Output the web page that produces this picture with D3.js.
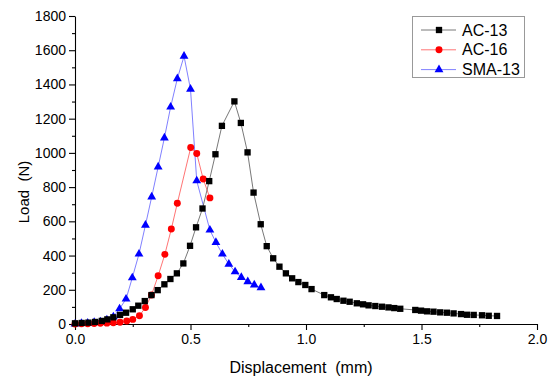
<!DOCTYPE html>
<html>
<head>
<meta charset="utf-8">
<script src="https://cdn.jsdelivr.net/npm/d3@7"></script>
<style>
  body { margin: 0; background: #fff; }
  svg { display: block; font-family: "Liberation Sans", Arial, sans-serif; }
  .axis path, .axis line { stroke: #000; stroke-width: 1.1; }
  .axis text { font-size: 14px; fill: #000; font-family: "Liberation Sans", Arial, sans-serif; }
  .line { fill: none; stroke-width: 0.8; }
</style>
</head>
<body>
<svg width="550" height="382"></svg>
<script>
// AC-13
var ac13Disp = [0, 0.029, 0.058, 0.087, 0.116, 0.14, 0.166, 0.195, 0.221, 0.25, 0.274, 0.302, 0.331, 0.358, 0.387, 0.413,
    0.441, 0.469, 0.498, 0.524, 0.552, 0.581, 0.608, 0.636, 0.69, 0.718, 0.747, 0.773, 0.804, 0.83, 0.858, 0.885,
    0.913, 0.94, 0.967, 0.997, 1.024, 1.079, 1.108, 1.133, 1.162, 1.189, 1.22, 1.247, 1.271, 1.3, 1.329, 1.357,
    1.382, 1.408, 1.473, 1.498, 1.524, 1.552, 1.581, 1.61, 1.639, 1.671, 1.697, 1.726, 1.762, 1.791, 1.827];
var ac13Load = [4, 6, 8, 12, 18, 27, 39, 53, 66, 86, 107, 134, 169, 198, 232, 263,
    296, 354, 457, 565, 675, 835, 992, 1158, 1301, 1175, 1003, 768, 583, 455, 384, 335,
    296, 267, 245, 228, 204, 169, 156, 146, 136, 130, 121, 115, 109, 105, 101, 97,
    93, 89, 82, 78, 74, 72, 68, 66, 62, 58, 54, 53, 51, 48, 47];

// AC-16
var ac16Disp = [0, 0.028, 0.055, 0.083, 0.11, 0.138, 0.166, 0.195, 0.224, 0.25, 0.279, 0.305, 0.331, 0.36, 0.389,
    0.417, 0.443, 0.501, 0.527, 0.555, 0.584];
var ac16Load = [0, 1, 2, 3, 4, 5, 7, 10, 18, 27, 48, 97, 169, 282, 407, 555, 706, 1031, 996, 847, 737];

// SMA-13
var smaDisp = [0, 0.028, 0.055, 0.083, 0.11, 0.138, 0.166, 0.193, 0.221, 0.248, 0.277, 0.305, 0.332, 0.36, 0.387,
    0.414, 0.443, 0.472, 0.5, 0.527, 0.584, 0.61, 0.638, 0.666, 0.693, 0.72, 0.748, 0.776, 0.805];
var smaLoad = [0, 3, 5, 9, 13, 24, 42, 89, 146, 270, 409, 578, 743, 918, 1088,
    1268, 1434, 1565, 1372, 837, 549, 477, 409, 350, 305, 272, 247, 228, 212];

var xTicks = [0, 0.5, 1.0, 1.5, 2.0];
var yTicks = [0, 200, 400, 600, 800, 1000, 1200, 1400, 1600, 1800];

var series = [
    { name: "SMA-13", disp: smaDisp, load: smaLoad, color: "#0000ff", line: "#6060ff", symbol: d3.symbolTriangle, size: 34 },
    { name: "AC-16", disp: ac16Disp, load: ac16Load, color: "#ff0000", line: "#ff5050", symbol: d3.symbolCircle, size: 38 },
    { name: "AC-13", disp: ac13Disp, load: ac13Load, color: "#000000", line: "#555555", symbol: d3.symbolSquare, size: 40 }
];

const svg = d3.select("svg");

const xScale = d3.scaleLinear().domain([0, 2]).range([75, 537]);
const yScale = d3.scaleLinear().domain([0, 1800]).range([324, 16]);

// minor ticks first
svg.append("g")
    .attr("class", "axis")
    .attr("transform", "translate(0,324)")
    .call(d3.axisBottom(xScale).tickValues(d3.range(0.25, 2, 0.5)).tickSize(3).tickSizeOuter(0).tickFormat(""))
    .select(".domain").remove();

svg.append("g")
    .attr("class", "axis")
    .attr("transform", "translate(75,0)")
    .call(d3.axisLeft(yScale).tickValues(d3.range(100, 1800, 200)).tickSize(3).tickSizeOuter(0).tickFormat(""))
    .select(".domain").remove();

svg.append("g")
    .attr("class", "axis")
    .attr("transform", "translate(0,324)")
    .call(d3.axisBottom(xScale).tickValues(xTicks).tickSize(6).tickSizeOuter(0).tickPadding(4).tickFormat(d3.format(".1f")));

svg.append("g")
    .attr("class", "axis")
    .attr("transform", "translate(75,0)")
    .call(d3.axisLeft(yScale).tickValues(yTicks).tickSize(6).tickSizeOuter(0).tickPadding(3).tickFormat(d3.format("d")));

// axis titles
svg.append("text")
    .attr("x", 301)
    .attr("y", 373)
    .attr("text-anchor", "middle")
    .style("font-size", "16px")
    .style("white-space", "pre")
    .text("Displacement  (mm)");

svg.append("text")
    .attr("transform", "translate(29,192) rotate(-90)")
    .attr("text-anchor", "middle")
    .style("font-size", "15px")
    .style("white-space", "pre")
    .text("Load  (N)");

// lines and markers
series.forEach(function (s) {
    var pts = s.disp.map(function (d, i) { return [d, s.load[i]]; });

    var lineGen = d3.line()
        .x(d => xScale(d[0]))
        .y(d => yScale(d[1]));

    svg.append("path")
        .datum(pts)
        .attr("class", "line")
        .attr("stroke", s.line)
        .attr("d", lineGen);

    svg.append("g")
        .selectAll("path")
        .data(pts)
        .join("path")
        .attr("transform", d => "translate(" + xScale(d[0]) + "," + yScale(d[1]) + ")")
        .attr("d", d3.symbol().type(s.symbol).size(s.size))
        .attr("fill", s.color);
});

// legend
const legend = svg.append("g");
legend.append("rect")
    .attr("x", 412.5)
    .attr("y", 16.5)
    .attr("width", 112)
    .attr("height", 61)
    .attr("fill", "#fff")
    .attr("stroke", "#999")
    .attr("stroke-width", 1);

var legendOrder = [series[2], series[1], series[0]];
legendOrder.forEach(function (s, i) {
    var ly = 30 + i * 19.8;
    legend.append("line")
        .attr("x1", 421).attr("x2", 456)
        .attr("y1", ly).attr("y2", ly)
        .attr("stroke", s.line)
        .attr("stroke-width", 0.8);
    legend.append("path")
        .attr("transform", "translate(439," + ly + ")")
        .attr("d", d3.symbol().type(s.symbol).size(s.size))
        .attr("fill", s.color);
    legend.append("text")
        .attr("x", 462)
        .attr("y", ly + 5.5)
        .style("font-size", "16px")
        .text(s.name);
});
</script>
</body>
</html>
